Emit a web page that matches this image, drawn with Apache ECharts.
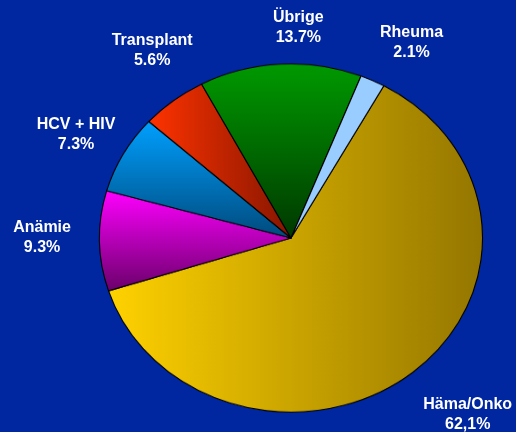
<!DOCTYPE html>
<html>
<head>
<meta charset="utf-8">
<script src="https://cdn.jsdelivr.net/npm/echarts@6/dist/echarts.min.js"></script>
<style>
  html, body { margin: 0; padding: 0; }
  body { width: 516px; height: 432px; background: #0026a0; position: relative; overflow: hidden; }
  #pie, #labels { position: absolute; left: 0; top: 0; width: 516px; height: 432px; }
  /* die Torte ist leicht gestaucht (Ellipse) */
  #pie { transform-origin: 291px 238px; transform: scaleY(0.909); }
</style>
</head>
<body>
<div id="pie"></div>
<div id="labels"></div>
<script>
// Kategorien
var categories = ['Häma/Onko', 'Anämie', 'HCV + HIV', 'Transplant', 'Übrige', 'Rheuma']
// Anteile in Prozent
var shares = [62.1, 9.3, 7.3, 5.6, 13.7, 2.1]
// Beschriftung der Werte wie im Original
var shareText = ['62,1%', '9.3%', '7.3%', '5.6%', '13.7%', '2.1%']

var cx = 291, cy = 238, rx = 191.5, ry = 174
var startAngle = 61

// Farben der Segmente (Verlauf)
function grad(horizontal, c0, c1) {
  return new echarts.graphic.LinearGradient(0, 0, horizontal ? 1 : 0, horizontal ? 0 : 1, [
    { offset: 0, color: c0 },
    { offset: 1, color: c1 }
  ])
}
var fills = [
  grad(true, '#ffd200', '#947600'),
  grad(false, '#ff00ff', '#6a006a'),
  grad(false, '#00a0ff', '#004a7c'),
  grad(true, '#ff3300', '#861600'),
  grad(false, '#009a00', '#003800'),
  '#99ccff'
]

var pieData = categories.map(function (name, i) {
  return { name: name, value: shares[i], itemStyle: { color: fills[i] } }
})

// Torte
var pie = echarts.init(document.getElementById('pie'))
pie.setOption({
  backgroundColor: 'transparent',
  animation: false,
  series: [{
    type: 'pie',
    center: [cx, cy],
    radius: [0, rx],
    startAngle: startAngle,
    clockwise: true,
    label: { show: false },
    labelLine: { show: false },
    itemStyle: { borderColor: '#000', borderWidth: 1.1 },
    data: pieData
  }]
})

// Abstand der Beschriftung (Vielfaches des Radius) und kleine Winkelkorrektur
var labelDist = [1.37, 1.30, 1.27, 1.30, 1.21, 1.29]
var labelTurn = [-3, 1, -1, 4, 5, 4]

var total = shares.reduce(function (a, b) { return a + b }, 0)
var midAngles = []
var acc = 0
shares.forEach(function (v) {
  midAngles.push(90 - startAngle + (acc + v / 2) / total * 360)
  acc += v
})

var labels = echarts.init(document.getElementById('labels'))
labels.setOption({
  backgroundColor: 'transparent',
  animation: false,
  series: [{
    type: 'pie',
    center: [cx, cy],
    radius: [0, rx],
    startAngle: startAngle,
    avoidLabelOverlap: false,
    silent: true,
    itemStyle: { color: 'transparent' },
    labelLine: { show: false },
    label: {
      show: true,
      position: 'outside',
      color: '#ffffff',
      fontFamily: 'Liberation Sans, Arial, sans-serif',
      fontWeight: 'bold',
      fontSize: 16,
      lineHeight: 20,
      formatter: function (p) {
        return p.name + '\n' + shareText[p.dataIndex]
      }
    },
    labelLayout: function (p) {
      var i = p.dataIndex
      var a = (midAngles[i] + labelTurn[i]) * Math.PI / 180
      return {
        x: cx + Math.sin(a) * rx * labelDist[i],
        y: cy - Math.cos(a) * ry * labelDist[i],
        align: 'center',
        verticalAlign: 'middle'
      }
    },
    data: categories.map(function (name, i) {
      return { name: name, value: shares[i] }
    })
  }]
})
</script>
</body>
</html>
